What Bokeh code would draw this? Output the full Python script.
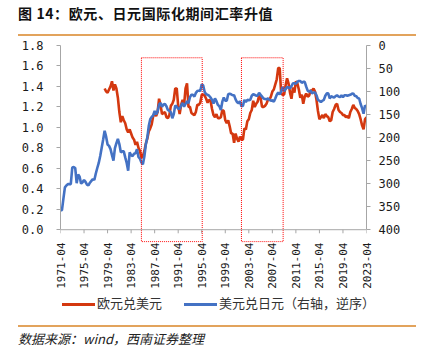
import numpy as np
from bokeh.plotting import figure
from bokeh.models import (Range1d, LinearAxis, FixedTicker, Span, Div,
                          NumeralTickFormatter, ColumnDataSource)
from bokeh.layouts import column
from bokeh.embed import file_html
from bokeh.resources import INLINE

# ---------------- data ----------------
title_text = "图 14：欧元、日元国际化期间汇率升值"
source_text = "数据来源：wind，西南证券整理"
series_labels = ["欧元兑美元", "美元兑日元（右轴，逆序）"]

tick_labels = ["1971-04", "1975-04", "1979-04", "1983-04", "1987-04", "1991-04",
               "1995-04", "1999-04", "2003-04", "2007-04", "2011-04", "2015-04",
               "2019-04", "2023-04"]

left_ticks = [0.0, 0.2, 0.4, 0.6, 0.8, 1.0, 1.2, 1.4, 1.6, 1.8]
right_ticks = [0, 50, 100, 150, 200, 250, 300, 350, 400]

# USD/JPY, quarterly, first value 1971-04
jpy_start = "1971-04"
jpy_values = [
    357.6, 357.4, 332,
    308, 304, 301, 301,
    301, 265, 264, 266,
    299, 280, 285, 300,
    297, 292, 296, 302,
    304, 298, 294, 290,
    292, 278, 266, 255,
    240, 222, 204, 185,
    198, 215, 218, 225,
    238, 250, 223, 212,
    203, 214, 232, 230,
    230, 243, 255, 272,
    232, 238, 240, 235,
    234, 225, 242, 246,
    254, 258, 241, 215,
    200, 175, 160, 155,
    152, 142, 150, 143,
    128, 125, 133, 128,
    127, 132, 140, 142,
    145, 158, 149, 130,
    133, 137, 138, 130,
    125, 133, 127, 121,
    125, 112, 107, 107,
    111, 103, 99, 98,
    99, 84, 87, 101,
    106, 107, 109, 113,
    118, 126, 115, 121,
    129, 132, 140, 122,
    113, 120, 120, 106,
    105, 106, 108, 108,
    117, 123, 125, 121,
    132, 131, 118, 123,
    118, 119, 118, 109,
    106, 107, 109, 109,
    103, 107, 111, 115,
    116, 117, 115, 118,
    120, 119, 122, 115,
    107, 102, 106, 100,
    90, 99, 95, 90,
    91, 93, 88, 82,
    82, 83, 79, 77,
    77, 81, 79, 79,
    89, 98, 100, 98,
    104, 102, 102, 108,
    118, 120, 123, 120,
    118, 109, 104, 104,
    115, 110, 112, 113,
    110, 108, 111, 112,
    108, 112, 108, 108,
    109, 108, 107, 105,
    104, 109, 110, 114,
    115, 127, 136, 148,
    130, 133,
]

# EUR/USD (ECU before 1999), quarterly, first value 1978-10
eur_start = "1978-10"
eur_values = [
    1.38,
    1.35, 1.34, 1.37, 1.40,
    1.45, 1.36, 1.42, 1.38,
    1.29, 1.15, 1.05, 1.11,
    1.07, 1.04, 0.98, 0.95,
    0.98, 0.94, 0.90, 0.88,
    0.83, 0.86, 0.80, 0.77,
    0.70, 0.72, 0.77, 0.84,
    0.89, 0.96, 0.99, 1.03,
    1.11, 1.14, 1.11, 1.15,
    1.28, 1.22, 1.13, 1.14,
    1.15, 1.10, 1.09, 1.12,
    1.21, 1.23, 1.27, 1.38,
    1.38, 1.21, 1.13, 1.22,
    1.27, 1.22, 1.38, 1.43,
    1.20, 1.20, 1.14, 1.13,
    1.12, 1.15, 1.22, 1.22,
    1.24, 1.32, 1.32, 1.31,
    1.28, 1.24, 1.27, 1.26,
    1.18, 1.12, 1.10, 1.13,
    1.09, 1.09, 1.10, 1.17,
    1.16, 1.07, 1.04, 1.07,
    1.01, 0.94, 0.94, 0.85,
    0.94, 0.89, 0.86, 0.91,
    0.88, 0.88, 0.99, 0.98,
    1.06, 1.08, 1.14, 1.17,
    1.26, 1.20, 1.23, 1.25,
    1.31, 1.29, 1.20, 1.20,
    1.21, 1.23, 1.27, 1.27,
    1.30, 1.35, 1.37, 1.42,
    1.47, 1.58, 1.58, 1.33,
    1.32, 1.32, 1.41, 1.48,
    1.43, 1.34, 1.28, 1.39,
    1.34, 1.45, 1.43, 1.37,
    1.29, 1.32, 1.23, 1.30,
    1.33, 1.30, 1.31, 1.36,
    1.36, 1.38, 1.35, 1.27,
    1.16, 1.08, 1.10, 1.12,
    1.09, 1.13, 1.11, 1.10,
    1.06, 1.07, 1.15, 1.18,
    1.22, 1.23, 1.17, 1.15,
    1.14, 1.12, 1.12, 1.10,
    1.11, 1.09, 1.15, 1.18,
    1.22, 1.19, 1.18, 1.16,
    1.13, 1.08, 1.02, 0.98,
    1.08, 1.10,
]

# highlighted periods (dotted red boxes)
highlight_start = ["1985-01", "2002-01"]
highlight_end = ["1995-05", "2009-02"]
highlight_top = [1.68, 1.68]
highlight_bottom = [-0.117, -0.117]

# ---------------- helpers ----------------
def ym(s):
    y, m = s.split("-")
    return int(y) + (int(m) - 1) / 12.0

def quarterly_x(start, n):
    return [ym(start) + 0.25 * i for i in range(n)]

tick_pos = [ym(t) for t in tick_labels]

RED = "#D4380F"
BLUE = "#4472C4"
AXIS = "#A6A6A6"
TXT = "#1A1A1A"
ORANGE = "#E2A35C"
series_colors = [RED, BLUE]

EXT = 0.125  # room below the x axis line for the dotted boxes

p = figure(width=422, height=255, output_backend="svg", toolbar_location=None,
           x_range=Range1d(tick_pos[0], tick_pos[-1]),
           y_range=Range1d(-EXT, left_ticks[-1]))
p.min_border_left = 60
p.min_border_right = 56
p.min_border_top = 9
p.min_border_bottom = 48
p.outline_line_color = None
p.grid.visible = False
p.extra_y_ranges = {"jpy": Range1d(start=right_ticks[-1] * (1 + EXT / left_ticks[-1]),
                                   end=right_ticks[0])}

# x axis: labels only (line and ticks are drawn at y = 0)
xa = p.xaxis[0]
xa.ticker = FixedTicker(ticks=tick_pos)
xa.major_label_overrides = {k: v for k, v in zip(tick_pos, tick_labels)}
xa.major_label_orientation = np.pi / 2
xa.axis_line_color = None
xa.major_tick_line_color = None
xa.major_tick_in = 0
xa.major_tick_out = 0
xa.minor_tick_line_color = None
xa.major_label_standoff = 0
xa.major_label_text_font = "DejaVu Sans Mono"
xa.major_label_text_font_size = "11px"
xa.major_label_text_color = TXT

# left axis
ya = p.yaxis[0]
ya.ticker = FixedTicker(ticks=left_ticks)
ya.bounds = (left_ticks[0], left_ticks[-1])
ya.formatter = NumeralTickFormatter(format="0.0")
ya.axis_line_color = AXIS
ya.major_tick_line_color = AXIS
ya.major_tick_in = 0
ya.major_tick_out = 4
ya.minor_tick_line_color = None
ya.major_label_standoff = 13
ya.major_label_text_font = "DejaVu Sans Mono"
ya.major_label_text_font_size = "12px"
ya.major_label_text_color = TXT

# right axis (reversed)
ra = LinearAxis(y_range_name="jpy", ticker=FixedTicker(ticks=right_ticks),
                bounds=(right_ticks[0], right_ticks[-1]))
ra.axis_line_color = AXIS
ra.major_tick_line_color = AXIS
ra.major_tick_in = 0
ra.major_tick_out = 4
ra.minor_tick_line_color = None
ra.major_label_standoff = 8
ra.major_label_text_font = "DejaVu Sans Mono"
ra.major_label_text_font_size = "12px"
ra.major_label_text_color = TXT
p.add_layout(ra, "right")

# x axis baseline and ticks
p.add_layout(Span(location=0, dimension="width", line_color=AXIS, line_width=1))
tick_len = 0.035
p.segment(x0=tick_pos, x1=tick_pos, y0=[0] * len(tick_pos), y1=[-tick_len] * len(tick_pos),
          line_color=AXIS, line_width=1)

# series
eur_src = ColumnDataSource(dict(x=quarterly_x(eur_start, len(eur_values)), y=eur_values))
jpy_src = ColumnDataSource(dict(x=quarterly_x(jpy_start, len(jpy_values)), y=jpy_values))
p.line("x", "y", source=eur_src, line_color=RED, line_width=2.6)
p.line("x", "y", source=jpy_src, line_color=BLUE, line_width=2.6, y_range_name="jpy")

# dotted boxes
p.quad(left=[ym(s) for s in highlight_start], right=[ym(s) for s in highlight_end],
       top=highlight_top, bottom=highlight_bottom, fill_color=None,
       line_color="#FF0000", line_width=1, line_dash="1 1")

# legend (HTML strip)
def key(color, left_gap):
    return ('<span style="display:inline-block;width:33px;height:3px;'
            'background:%s;vertical-align:middle;margin:0 2px 0 %dpx"></span>'
            % (color, left_gap))

legend_html = (key(series_colors[0], 0) + series_labels[0]
               + key(series_colors[1], 22) + series_labels[1])
legend_div = Div(text=legend_html, width=360, height=24, margin=(0, 0, 0, 62),
                 styles={"font-family": "'Noto Sans CJK SC'", "font-size": "13px",
                         "color": "#333333", "line-height": "24px",
                         "white-space": "nowrap"})

title_div = Div(text=title_text, width=398, height=36, margin=(0, 6, 0, 18),
                styles={"font-family": "'Noto Sans CJK SC'", "font-size": "14px",
                        "font-weight": "bold", "color": "#111111",
                        "border-bottom": "2px solid " + ORANGE,
                        "box-sizing": "border-box", "padding-top": "3px",
                        "letter-spacing": "0.6px"})
source_div = Div(text=source_text, width=398, height=28, margin=(10, 6, 0, 18),
                 styles={"font-family": "'Noto Sans CJK SC'", "font-size": "13px",
                         "font-style": "italic", "color": "#222222",
                         "border-top": "2px solid " + ORANGE,
                         "box-sizing": "border-box", "padding-top": "3px"})

layout = column(title_div, p, legend_div, source_div, spacing=0)
open("out.html", "w").write(file_html(layout, INLINE))
